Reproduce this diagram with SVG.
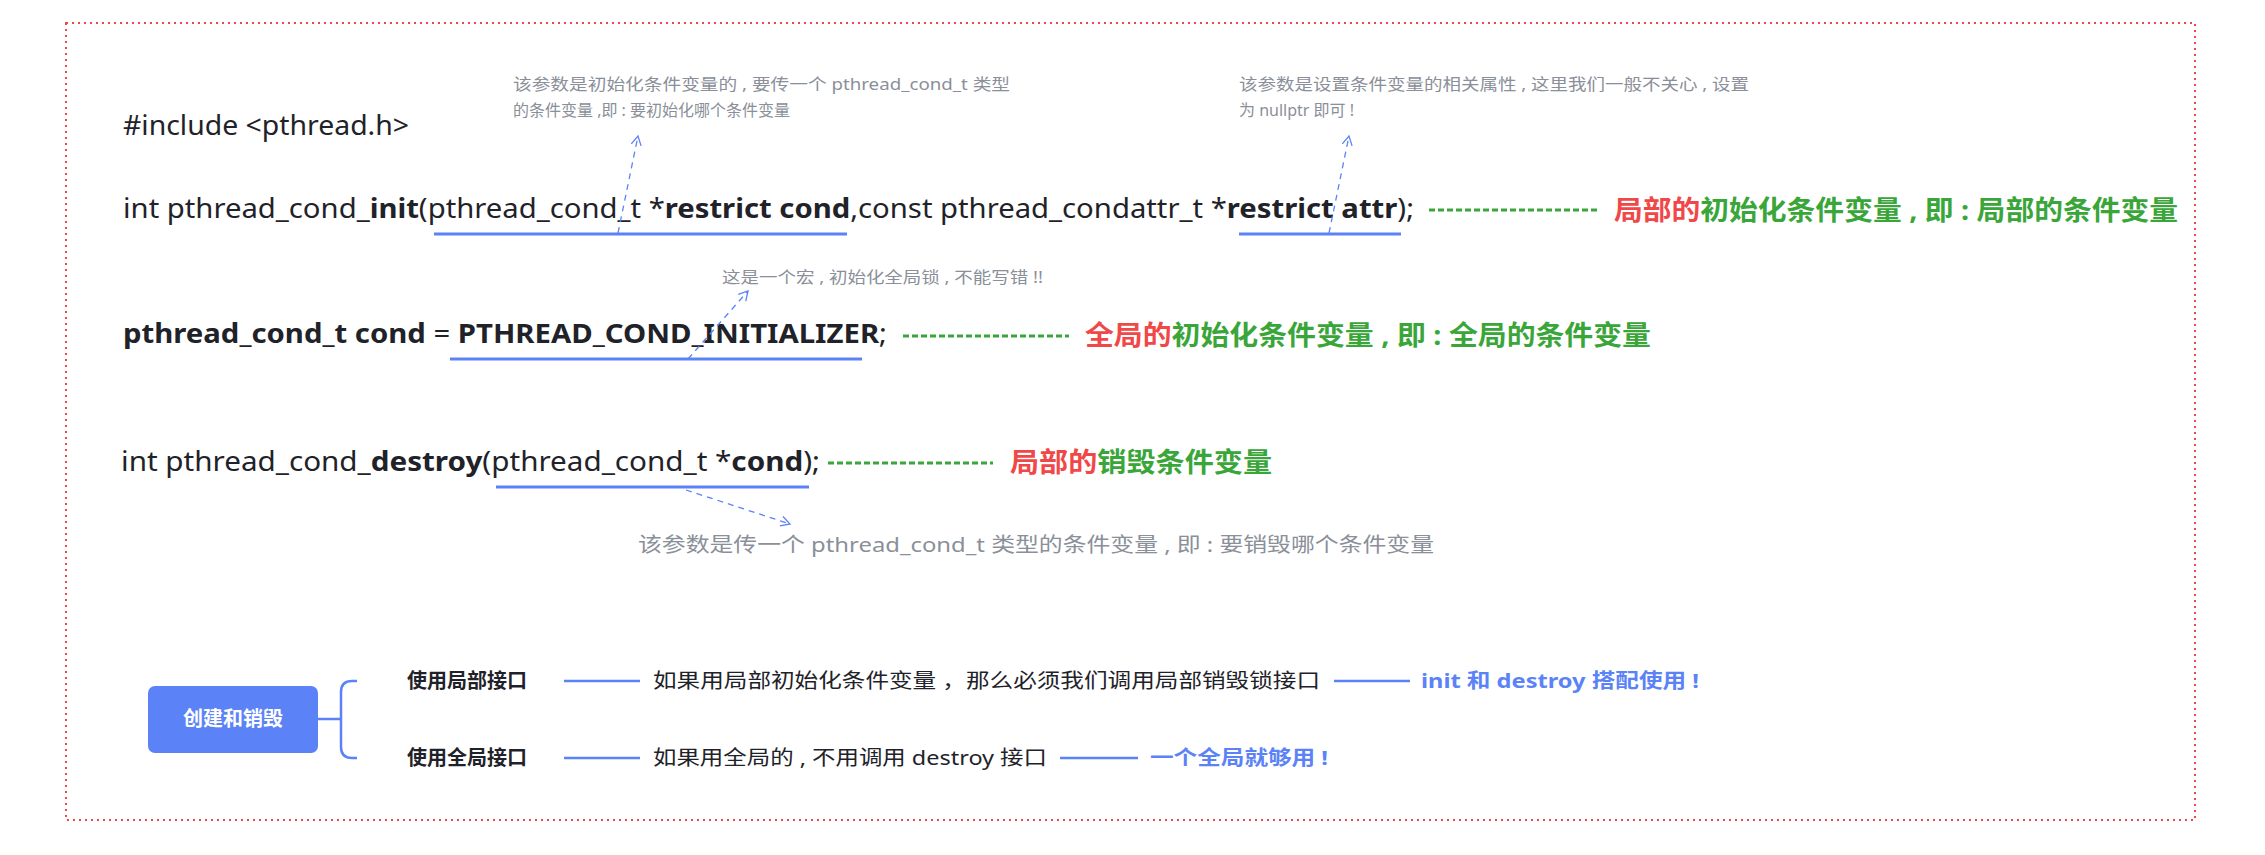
<svg xmlns="http://www.w3.org/2000/svg" width="2265" height="855" viewBox="0 0 2265 855">
<style>
.code{font-family:"Noto Sans","Noto Sans CJK SC",sans-serif;font-size:27px;fill:#1f2329}
.b{font-weight:bold}
.note{font-family:"Noto Sans","Noto Sans CJK SC",sans-serif;font-size:16px;fill:#8a8f99}
.note2{font-family:"Noto Sans","Noto Sans CJK SC",sans-serif;font-size:20px;fill:#8a8f99}
.tag{font-family:"Noto Sans","Noto Sans CJK SC",sans-serif;font-size:27px;font-weight:bold}
.red{fill:#f04848}.green{fill:#3aa63a}
.ul{stroke:#5b83f7;stroke-width:3;fill:none}
.arr{stroke:#5b83f7;stroke-width:1.3;stroke-dasharray:6 5;fill:none;marker-end:url(#ah)}
.gd{stroke:#3aa63a;stroke-width:3;stroke-dasharray:6 3;fill:none}
.mm{font-family:"Noto Sans","Noto Sans CJK SC",sans-serif;font-size:20px;fill:#1f2329}
.br{stroke:#5b83f7;stroke-width:2.5;fill:none}
.blue{fill:#5b83f7;font-weight:bold}
</style>
<defs>
<marker id="ah" markerWidth="12" markerHeight="12" refX="10" refY="6" orient="auto" markerUnits="userSpaceOnUse">
<path d="M1,1 L10,6 L1,11" fill="none" stroke="#5b83f7" stroke-width="1.3"/>
</marker>
</defs>
<rect x="66" y="23" width="2129" height="797" fill="none" stroke="#f04848" stroke-width="2" stroke-dasharray="2 4"/>

<g id="code">
<text class="code" x="123" y="135" textLength="286" lengthAdjust="spacingAndGlyphs">#include &lt;pthread.h&gt;</text>
<text class="code" x="123" y="218" textLength="1291" lengthAdjust="spacingAndGlyphs">int pthread_cond_<tspan class="b">init</tspan>(pthread_cond_t *<tspan class="b">restrict cond</tspan>,const pthread_condattr_t *<tspan class="b">restrict attr</tspan>);</text>
<text class="code" x="123" y="343" textLength="764" lengthAdjust="spacingAndGlyphs"><tspan class="b">pthread_cond_t cond</tspan> = <tspan class="b">PTHREAD_COND_INITIALIZER</tspan>;</text>
<text class="code" x="121" y="471" textLength="699" lengthAdjust="spacingAndGlyphs">int pthread_cond_<tspan class="b">destroy</tspan>(pthread_cond_t *<tspan class="b">cond</tspan>);</text>
</g>

<g id="tags">
<text class="tag" x="1614" y="220" textLength="564" lengthAdjust="spacingAndGlyphs"><tspan class="red">局部的</tspan><tspan class="green">初始化条件变量 , 即 : 局部的条件变量</tspan></text>
<text class="tag" x="1085" y="345" textLength="566" lengthAdjust="spacingAndGlyphs"><tspan class="red">全局的</tspan><tspan class="green">初始化条件变量 , 即 : 全局的条件变量</tspan></text>
<text class="tag" x="1010" y="472" textLength="262" lengthAdjust="spacingAndGlyphs"><tspan class="red">局部的</tspan><tspan class="green">销毁条件变量</tspan></text>
</g>

<g id="notes">
<text class="note" x="513" y="90" textLength="497" lengthAdjust="spacingAndGlyphs">该参数是初始化条件变量的 , 要传一个 pthread_cond_t 类型</text>
<text class="note" x="513" y="116">的条件变量 ,即 : 要初始化哪个条件变量</text>
<text class="note" x="1239" y="90" textLength="510" lengthAdjust="spacingAndGlyphs">该参数是设置条件变量的相关属性 , 这里我们一般不关心 , 设置</text>
<text class="note" x="1239" y="116">为 nullptr 即可 !</text>
<text class="note" x="722" y="283" textLength="321" lengthAdjust="spacingAndGlyphs">这是一个宏 , 初始化全局锁 , 不能写错 !!</text>
<text class="note2" x="638" y="552" textLength="796" lengthAdjust="spacingAndGlyphs">该参数是传一个 pthread_cond_t 类型的条件变量 , 即 : 要销毁哪个条件变量</text>
</g>

<g id="connectors">
<line class="gd" x1="1429" y1="210" x2="1597" y2="210"/>
<line class="gd" x1="903" y1="336" x2="1069" y2="336"/>
<line class="gd" x1="828" y1="463" x2="993" y2="463"/>
<line class="ul" x1="434" y1="234" x2="847" y2="234"/>
<line class="ul" x1="1239" y1="234" x2="1401" y2="234"/>
<line class="ul" x1="450" y1="359" x2="862" y2="359"/>
<line class="ul" x1="496" y1="487" x2="809" y2="487"/>
<path class="arr" d="M618,233 L638,136"/>
<path class="arr" d="M1329,233 L1349,136"/>
<path class="arr" d="M688,359 L748,291"/>
<path class="arr" d="M686,490 L790,524"/>
<path class="br" d="M318,719 H340 M357,681 H352 Q341,681 341,692 V747 Q341,758 352,758 H357"/>
<line class="br" x1="564" y1="681" x2="640" y2="681"/>
<line class="br" x1="1334" y1="681" x2="1410" y2="681"/>
<line class="br" x1="564" y1="758" x2="640" y2="758"/>
<line class="br" x1="1060" y1="758" x2="1138" y2="758"/>
</g>

<g id="root">
<rect x="148" y="686" width="170" height="67" rx="7" fill="#5b83f7"/>
<text class="mm" x="233" y="726" text-anchor="middle" style="fill:#fff;font-weight:bold">创建和销毁</text>
</g>
<g id="local">
<text class="mm b" x="407" y="688">使用局部接口</text>
<text class="mm" x="653" y="688" textLength="667" lengthAdjust="spacingAndGlyphs">如果用局部初始化条件变量 ，那么必须我们调用局部销毁锁接口</text>
<text class="mm blue" x="1421" y="688" textLength="278" lengthAdjust="spacingAndGlyphs">init 和 destroy 搭配使用 !</text>
</g>
<g id="global">
<text class="mm b" x="407" y="765">使用全局接口</text>
<text class="mm" x="653" y="765" textLength="394" lengthAdjust="spacingAndGlyphs">如果用全局的 , 不用调用 destroy 接口</text>
<text class="mm blue" x="1150" y="765" textLength="178" lengthAdjust="spacingAndGlyphs">一个全局就够用 !</text>
</g>
</svg>
